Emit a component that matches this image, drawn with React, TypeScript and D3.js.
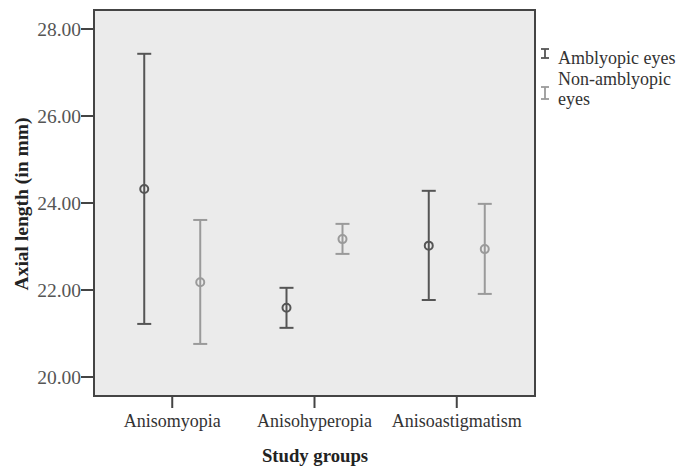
import React, { useEffect, useRef } from 'react';
import * as d3 from 'd3';

const groups = ['Anisomyopia', 'Anisohyperopia', 'Anisoastigmatism'];
const series = ['Amblyopic eyes', 'Non-amblyopic eyes'];
const amblyopicMean = [24.32, 21.59, 23.02];
const amblyopicLow = [21.22, 21.13, 21.77];
const amblyopicHigh = [27.43, 22.05, 24.28];
const nonMean = [22.18, 23.17, 22.94];
const nonLow = [20.76, 22.83, 21.91];
const nonHigh = [23.61, 23.52, 23.98];
const yTicks = [20, 22, 24, 26, 28];

const colors = ['#555555', '#9a9a9a'];
const FONT = '"Liberation Serif", "Times New Roman", serif';

const App = () => {
  const ref = useRef<SVGSVGElement>(null);

  useEffect(() => {
    const svg = d3.select(ref.current);
    svg.selectAll('*').remove();

    const left = 94, right = 535, top = 10, bottom = 396;

    const y = d3.scaleLinear().domain([20, 28]).range([377, 29]);
    const x = d3.scalePoint().domain(groups).range([left, right]).padding(0.55);
    const sub = d3.scalePoint().domain(series).range([-28, 28]);

    svg.append('rect')
      .attr('x', left).attr('y', top)
      .attr('width', right - left).attr('height', bottom - top)
      .attr('fill', '#ebebeb')
      .attr('stroke', '#444').attr('stroke-width', 2);

    // y axis ticks
    const yAxis = svg.append('g');
    yTicks.forEach(t => {
      yAxis.append('line')
        .attr('x1', left - 13).attr('x2', left)
        .attr('y1', y(t)).attr('y2', y(t))
        .attr('stroke', '#444').attr('stroke-width', 2);
      yAxis.append('text')
        .attr('x', left - 13).attr('y', y(t))
        .attr('dy', '0.35em')
        .attr('text-anchor', 'end')
        .attr('font-family', FONT).attr('font-size', 19.5)
        .attr('fill', '#555')
        .text(t.toFixed(2));
    });

    // x axis ticks
    groups.forEach(g => {
      svg.append('line')
        .attr('x1', x(g)!).attr('x2', x(g)!)
        .attr('y1', bottom).attr('y2', bottom + 12)
        .attr('stroke', '#444').attr('stroke-width', 2);
      svg.append('text')
        .attr('x', x(g)!).attr('y', 427)
        .attr('text-anchor', 'middle')
        .attr('font-family', FONT).attr('font-size', 18)
        .attr('fill', '#333')
        .text(g);
    });

    svg.append('text')
      .attr('x', 315).attr('y', 462)
      .attr('text-anchor', 'middle')
      .attr('font-family', FONT).attr('font-size', 18.7).attr('font-weight', 'bold')
      .attr('fill', '#222')
      .text('Study groups');

    svg.append('text')
      .attr('transform', `translate(28,204) rotate(-90)`)
      .attr('text-anchor', 'middle')
      .attr('font-family', FONT).attr('font-size', 19.5).attr('font-weight', 'bold')
      .attr('fill', '#222')
      .text('Axial length (in mm)');

    const data = [
      { s: series[0], mean: amblyopicMean, low: amblyopicLow, high: amblyopicHigh, c: colors[0] },
      { s: series[1], mean: nonMean, low: nonLow, high: nonHigh, c: colors[1] },
    ];

    data.forEach(d => {
      groups.forEach((g, i) => {
        const cx = x(g)! + sub(d.s)!;
        const gg = svg.append('g').attr('stroke', d.c).attr('stroke-width', 2).attr('fill', 'none');
        gg.append('line')
          .attr('x1', cx).attr('x2', cx)
          .attr('y1', y(d.high[i])).attr('y2', y(d.low[i]));
        [d.high[i], d.low[i]].forEach(v => {
          gg.append('line')
            .attr('x1', cx - 7).attr('x2', cx + 7)
            .attr('y1', y(v)).attr('y2', y(v));
        });
        gg.append('circle')
          .attr('cx', cx).attr('cy', y(d.mean[i])).attr('r', 4)
          .attr('fill', 'none');
      });
    });

    // legend
    const leg = [
      { c: colors[0], y0: 49, y1: 58, lines: ['Amblyopic eyes'], ty: 64 },
      { c: colors[1], y0: 87, y1: 99, lines: ['Non-amblyopic', 'eyes'], ty: 85 },
    ];
    leg.forEach(l => {
      const g = svg.append('g').attr('stroke', l.c).attr('stroke-width', 1.8);
      g.append('line').attr('x1', 545).attr('x2', 545).attr('y1', l.y0).attr('y2', l.y1);
      g.append('line').attr('x1', 541).attr('x2', 549).attr('y1', l.y0).attr('y2', l.y0);
      g.append('line').attr('x1', 541).attr('x2', 549).attr('y1', l.y1).attr('y2', l.y1);
      l.lines.forEach((t, k) => {
        svg.append('text')
          .attr('x', 558).attr('y', l.ty + k * 20)
          .attr('font-family', FONT).attr('font-size', 18)
          .attr('fill', '#333')
          .text(t);
      });
    });
  }, []);

  return (
    <svg ref={ref} width={679} height={470} style={{ position: 'absolute', left: 0, top: 0, background: '#fff' }} />
  );
};

export default App;
